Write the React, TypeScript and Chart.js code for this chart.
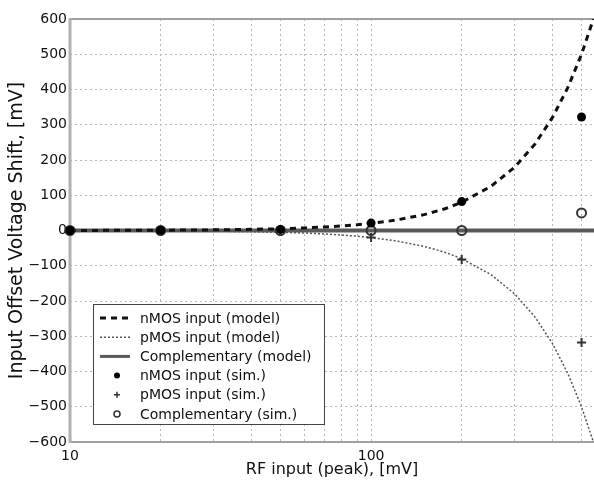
import React, { useEffect, useRef } from 'react';
import { Chart, registerables } from 'chart.js';

Chart.register(...registerables);

// ---- data ----
const xModel = [10, 15, 20, 30, 40, 50, 60, 70, 80, 90, 100, 120, 150, 175, 200, 250, 300, 350, 400, 450, 500, 550];
const nModel = [0.2, 0.45, 0.8, 1.8, 3.2, 5, 7.2, 9.8, 12.8, 16.2, 20, 29, 45, 61, 80, 125, 180, 245, 320, 405, 500, 605];
const pModel = [-0.2, -0.45, -0.8, -1.8, -3.2, -5, -7.2, -9.8, -12.8, -16.2, -20, -29, -45, -61, -80, -125, -180, -245, -320, -405, -500, -605];
const xComp = [10, 550];
const compModel = [0, 0];
const xSim = [10, 20, 50, 100, 200, 500];
const nSim = [0, 0.5, 3, 21, 82, 322];
const pSim = [0, -0.5, -3, -20, -82, -318];
const compSim = [0, 0, 0, 0, 0, 50];
const xTicks = [10, 20, 30, 40, 50, 60, 70, 80, 90, 100, 200, 300, 400, 500];
const xTickLabels = [10, 100];
const yTicks = [-600, -500, -400, -300, -200, -100, 0, 100, 200, 300, 400, 500, 600];
const seriesNames = [
  'nMOS input (model)',
  'pMOS input (model)',
  'Complementary (model)',
  'nMOS input (sim.)',
  'pMOS input (sim.)',
  'Complementary (sim.)',
];

const FONT = "'DejaVu Sans', sans-serif";

const pts = (xs: number[], ys: number[]) => xs.map((x, i) => ({ x, y: ys[i] }));

function drawMarker(ctx: CanvasRenderingContext2D, kind: string, x: number, y: number, color: string, r: number) {
  ctx.save();
  ctx.strokeStyle = color;
  ctx.fillStyle = color;
  if (kind === 'dot') {
    ctx.beginPath();
    ctx.arc(x, y, r, 0, Math.PI * 2);
    ctx.fill();
  } else if (kind === 'plus') {
    ctx.lineWidth = r > 3.5 ? 2 : 1.5;
    ctx.beginPath();
    ctx.moveTo(x - r, y);
    ctx.lineTo(x + r, y);
    ctx.moveTo(x, y - r);
    ctx.lineTo(x, y + r);
    ctx.stroke();
  } else {
    ctx.lineWidth = r > 3.5 ? 2 : 1.5;
    ctx.beginPath();
    ctx.arc(x, y, r, 0, Math.PI * 2);
    ctx.stroke();
  }
  ctx.restore();
}

const framePlugin = {
  id: 'frame',
  beforeDatasetsDraw(chart: any) {
    const { ctx, chartArea } = chart;
    const { left, right, top, bottom } = chartArea;
    ctx.save();
    ctx.strokeStyle = '#a0a0a0';
    ctx.lineWidth = 2;
    ctx.beginPath();
    ctx.moveTo(left, top);
    ctx.lineTo(right, top);
    ctx.moveTo(left, bottom);
    ctx.lineTo(right, bottom);
    ctx.stroke();
    ctx.strokeStyle = '#b0b0b0';
    ctx.lineWidth = 3;
    ctx.beginPath();
    ctx.moveTo(left, top - 1);
    ctx.lineTo(left, bottom + 1);
    ctx.stroke();
    ctx.restore();
  },
};

const legendPlugin = {
  id: 'boxLegend',
  afterDatasetsDraw(chart: any) {
    const { ctx, chartArea } = chart;
    const bx = chartArea.left + 23;
    const by = chartArea.top + 285;
    const bw = 231;
    const bh = 120;
    ctx.save();
    ctx.fillStyle = '#ffffff';
    ctx.fillRect(bx, by, bw, bh);
    ctx.strokeStyle = '#444';
    ctx.lineWidth = 1;
    ctx.strokeRect(bx + 0.5, by + 0.5, bw, bh);
    ctx.font = `14px ${FONT}`;
    ctx.textBaseline = 'middle';
    ctx.textAlign = 'left';
    const kinds = ['dash', 'dot-line', 'solid', 'dot', 'plus', 'ring'];
    chart.data.datasets.forEach((ds: any, i: number) => {
      const y = by + 14 + i * 19.2;
      const k = kinds[i];
      if (k === 'dash' || k === 'dot-line' || k === 'solid') {
        ctx.save();
        ctx.strokeStyle = ds.borderColor;
        ctx.lineWidth = k === 'solid' ? 3 : ds.borderWidth;
        ctx.setLineDash(ds.borderDash || []);
        ctx.beginPath();
        ctx.moveTo(bx + 7, y);
        ctx.lineTo(bx + 37, y);
        ctx.stroke();
        ctx.restore();
      } else {
        drawMarker(ctx, k, bx + 24, y, ds.borderColor, 3);
      }
      ctx.fillStyle = '#111';
      ctx.fillText(seriesNames[i], bx + 47, y + 1);
    });
    ctx.restore();
  },
};

const markerPlugin = {
  id: 'simMarkers',
  afterDatasetsDraw(chart: any) {
    const { ctx } = chart;
    const kinds: Record<number, string> = { 3: 'dot', 4: 'plus', 5: 'ring' };
    [5, 4, 3].forEach((di) => {
      const meta = chart.getDatasetMeta(di);
      const ds = chart.data.datasets[di];
      meta.data.forEach((el: any) => {
        drawMarker(ctx, kinds[di], el.x, el.y, ds.borderColor, 4.5);
      });
    });
  },
};

export default function App() {
  const ref = useRef<HTMLCanvasElement | null>(null);
  useEffect(() => {
    document.body.style.margin = '0';
    const canvas = ref.current!;
    const chart = new Chart(canvas, {
      type: 'scatter',
      data: {
        datasets: [
          {
            label: seriesNames[0],
            data: pts(xModel, nModel),
            showLine: true,
            borderColor: '#111',
            borderWidth: 3,
            borderDash: [6, 5],
            pointRadius: 0,
            order: 1,
          },
          {
            label: seriesNames[1],
            data: pts(xModel, pModel),
            showLine: true,
            borderColor: '#555',
            borderWidth: 1.5,
            borderDash: [2, 2],
            pointRadius: 0,
            order: 2,
          },
          {
            label: seriesNames[2],
            data: pts(xComp, compModel),
            showLine: true,
            borderColor: '#5a5a5a',
            borderWidth: 4,
            pointRadius: 0,
            order: 3,
          },
          {
            label: seriesNames[3],
            data: pts(xSim, nSim),
            showLine: false,
            borderColor: '#000',
            backgroundColor: '#000',
            pointRadius: 0,
            order: 0,
          },
          {
            label: seriesNames[4],
            data: pts(xSim, pSim),
            showLine: false,
            borderColor: '#333',
            pointRadius: 0,
            order: 0,
          },
          {
            label: seriesNames[5],
            data: pts(xSim, compSim),
            showLine: false,
            borderColor: '#333',
            pointRadius: 0,
            order: 0,
          },
        ],
      },
      options: {
        animation: false,
        responsive: false,
        devicePixelRatio: 1,
        layout: { padding: { top: 19, right: 0, left: 0, bottom: 0 } },
        plugins: { legend: { display: false }, tooltip: { enabled: false } },
        scales: {
          x: {
            type: 'logarithmic',
            min: 10,
            max: 550,
            afterBuildTicks: (scale: any) => {
              scale.ticks = xTicks.map((v) => ({ value: v }));
            },
            afterFit: (scale: any) => {
              scale.height = 45;
            },
            ticks: {
              autoSkip: false,
              maxRotation: 0,
              padding: 6,
              color: '#111',
              font: { family: FONT, size: 14 },
              callback: (v: any) => (xTickLabels.includes(Number(v)) ? String(v) : ''),
            },
            grid: { color: '#b8b8b8', lineWidth: 1, drawTicks: false },
            border: { display: false, dash: [2, 3] },
            title: {
              display: true,
              text: 'RF input (peak), [mV]',
              color: '#111',
              font: { family: FONT, size: 16 },
              padding: { top: 0, bottom: 8 },
            },
          },
          y: {
            type: 'linear',
            min: -600,
            max: 600,
            afterBuildTicks: (scale: any) => {
              scale.ticks = yTicks.map((v) => ({ value: v }));
            },
            afterFit: (scale: any) => {
              scale.width = 70;
            },
            ticks: {
              padding: 3,
              color: '#111',
              font: { family: FONT, size: 14 },
              callback: (v: any) => (Number(v) < 0 ? '\u2212' + Math.abs(Number(v)) : String(v)),
            },
            grid: { color: '#b8b8b8', lineWidth: 1, drawTicks: false },
            border: { display: false, dash: [2, 3] },
            title: {
              display: true,
              text: 'Input Offset Voltage Shift, [mV]',
              color: '#111',
              font: { family: FONT, size: 19 },
              padding: { top: 6, bottom: 0 },
            },
          },
        },
      },
      plugins: [framePlugin, markerPlugin, legendPlugin],
    } as any);
    return () => chart.destroy();
  }, []);
  return (
    <div style={{ position: 'absolute', left: 0, top: 0, width: 594, height: 487, background: '#fff' }}>
      <canvas ref={ref} width={594} height={487} style={{ display: 'block' }} />
    </div>
  );
}
